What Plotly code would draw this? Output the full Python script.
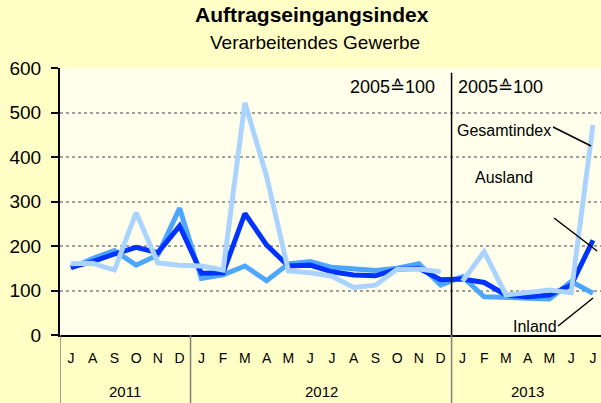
import plotly.graph_objects as go

months = ["J","A","S","O","N","D","J","F","M","A","M","J","J","A","S","O","N","D","J","F","M","A","M","J","J"]
years = ["2011", "2012", "2013"]
year_centers = [2.5, 11.5, 21.0]

# Series values (index 2005 = 100), Jul 2011 .. Jul 2013
dark = [152, 165, 182, 197, 185, 245, 139, 140, 273, 202, 155, 157, 142, 135, 133, 148, 150, 124,
        126, 118, 90, 86, 90, 112, 213]
medium = [150, 172, 190, 157, 180, 285, 127, 135, 155, 122, 160, 165, 152, 148, 145, 150, 160, 112,
          131, 86, 85, 83, 81, 120, 94]
light = [160, 161, 146, 275, 162, 157, 155, 146, 522, 356, 144, 140, 132, 107, 112, 148, 148, 142,
         121, 187, 90, 95, 101, 95, 472]

x = list(range(len(months)))

fig = go.Figure()
fig.add_trace(go.Scatter(x=x, y=medium, mode="lines", line=dict(color="#4DA6FF", width=5),
                         name="Inland", showlegend=False))
fig.add_trace(go.Scatter(x=x, y=dark, mode="lines", line=dict(color="#0033FF", width=5),
                         name="Gesamtindex", showlegend=False))
fig.add_trace(go.Scatter(x=x[:18], y=light[:18], mode="lines", line=dict(color="#AAD4FF", width=5),
                         name="Ausland", showlegend=False))
fig.add_trace(go.Scatter(x=x[18:], y=light[18:], mode="lines", line=dict(color="#AAD4FF", width=5),
                         name="Ausland", showlegend=False))

ybot = -0.255
shapes = []
for xv in [-0.5, 5.5]:
    shapes.append(dict(type="line", xref="x", yref="paper", x0=xv, x1=xv, y0=ybot, y1=0,
                       line=dict(color="#808080", width=1.5)))
shapes.append(dict(type="line", xref="x", yref="paper", x0=17.5, x1=17.5, y0=ybot, y1=0,
                   line=dict(color="#808080", width=1.5)))
shapes.append(dict(type="line", xref="x", yref="paper", x0=17.5, x1=17.5, y0=0, y1=0.982,
                   line=dict(color="black", width=1.5)))

def px2x(p):
    return -0.5 + (p - 60) / 21.75

def px2y(p):
    return (335 - p) / 0.445

# leader lines
for (xa, ya, xb, yb) in [(553, 127, 591, 146), (554, 218, 597, 251), (558, 326, 593, 298)]:
    shapes.append(dict(type="line", xref="x", yref="y", x0=px2x(xa), y0=px2y(ya),
                       x1=px2x(xb), y1=px2y(yb), line=dict(color="black", width=1.5)))

annotations = [
    dict(text="<b>Auftragseingangsindex</b>", xref="paper", yref="paper", x=(312 - 60) / 541,
         y=1 + (68 - 15) / 267, showarrow=False, font=dict(size=21, color="black"),
         xanchor="center", yanchor="middle"),
    dict(text="Verarbeitendes Gewerbe", xref="paper", yref="paper", x=(315 - 60) / 541,
         y=1 + (68 - 42) / 267, showarrow=False, font=dict(size=19, color="black"),
         xanchor="center", yanchor="middle"),
    dict(text="2005≙100", xref="x", yref="y", x=px2x(437), y=px2y(87), xanchor="right",
         yanchor="middle", showarrow=False, font=dict(size=18, color="black")),
    dict(text="2005≙100", xref="x", yref="y", x=px2x(456), y=px2y(87), xanchor="left",
         yanchor="middle", showarrow=False, font=dict(size=18, color="black")),
    dict(text="Gesamtindex", xref="x", yref="y", x=px2x(455), y=px2y(130), xanchor="left",
         yanchor="middle", showarrow=False, font=dict(size=16, color="black")),
    dict(text="Ausland", xref="x", yref="y", x=px2x(473), y=px2y(177), xanchor="left",
         yanchor="middle", showarrow=False, font=dict(size=16, color="black")),
    dict(text="Inland", xref="x", yref="y", x=px2x(511), y=px2y(326), xanchor="left",
         yanchor="middle", showarrow=False, font=dict(size=16, color="black")),
]
for yr, xc in zip(years, year_centers):
    annotations.append(dict(text=yr, xref="x", yref="paper", x=xc, y=-(391 - 335) / 267,
                            xanchor="center", yanchor="middle", showarrow=False,
                            font=dict(size=15, color="black")))

fig.update_layout(
    width=601, height=403,
    margin=dict(l=60, r=0, t=68, b=68),
    paper_bgcolor="#FFFFC6",
    plot_bgcolor="#FFFFEC",
    font=dict(family="Arial, Liberation Sans, sans-serif", color="black"),
    shapes=shapes,
    annotations=annotations,
    xaxis=dict(range=[-0.5, 24.37], tickvals=x, ticktext=months, showgrid=False,
               zeroline=False, showline=True, linecolor="black", linewidth=2,
               ticks="", tickfont=dict(size=14), ticklabelstandoff=9, fixedrange=True),
    yaxis=dict(range=[0, 600], tickvals=[0, 100, 200, 300, 400, 500, 600], showgrid=True,
               gridcolor="#A0A0A0", griddash="dot", gridwidth=2, zeroline=False,
               showline=True, linecolor="black", linewidth=2, ticks="outside", ticklen=7,
               tickcolor="black", tickwidth=1.5, tickfont=dict(size=19), ticklabelstandoff=6,
               fixedrange=True),
)

fig.write_html("out.html", config={"displayModeBar": False},
               post_script="document.body.style.margin='0';document.body.style.padding='0';")
